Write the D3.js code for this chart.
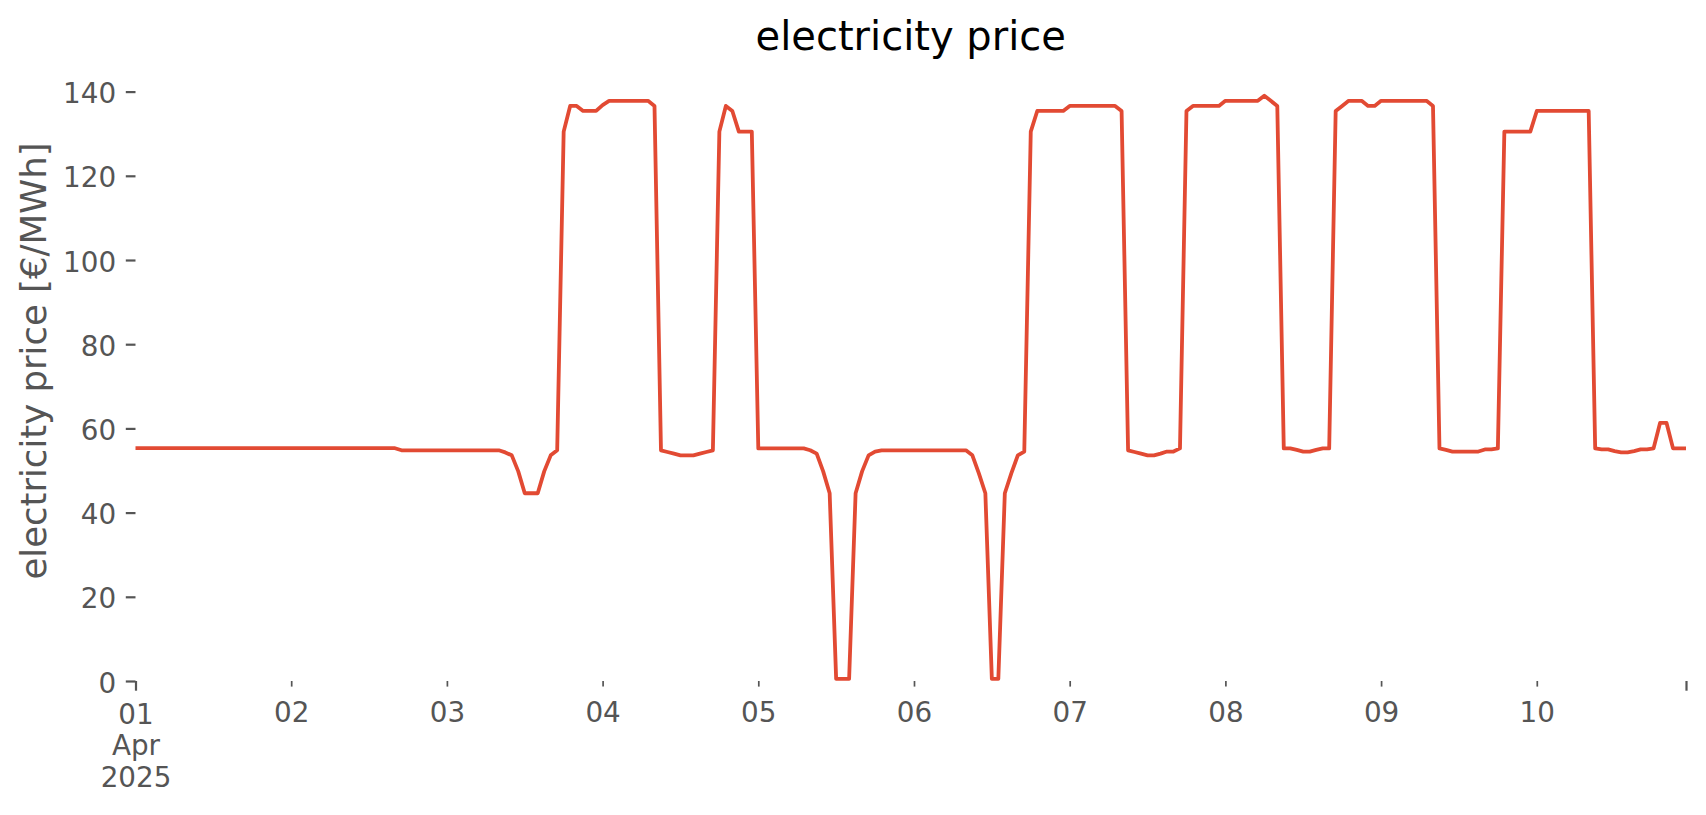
<!DOCTYPE html>
<html>
<head>
<meta charset="utf-8">
<script src="https://cdn.jsdelivr.net/npm/d3@7"></script>
<style>
  html, body { margin: 0; padding: 0; background: #ffffff; }
  svg { display: block; }
</style>
</head>
<body>
<svg id="chart" width="1706" height="815"></svg>
<script>
// ---------------- data ----------------
const titleText = "electricity price";
const yLabelText = "electricity price [€/MWh]";
const startTime = "2025-04-01T00:00:00Z";   // first hourly sample
const endTime = "2025-04-10T23:00:00Z";     // last hourly sample

// hourly electricity price, €/MWh, 1 Apr 00:00 .. 10 Apr 23:00
const pricesDay01 = [55.3,55.3,55.3,55.3,55.3,55.3,55.3,55.3,55.3,55.3,55.3,55.3,55.3,55.3,55.3,55.3,55.3,55.3,55.3,55.3,55.3,55.3,55.3,55.3];
const pricesDay02 = [55.3,55.3,55.3,55.3,55.3,55.3,55.3,55.3,55.3,55.3,55.3,55.3,55.3,55.3,55.3,55.3,55.3,54.8,54.8,54.8,54.8,54.8,54.8,54.8];
const pricesDay03 = [54.8,54.8,54.8,54.8,54.8,54.8,54.8,54.8,54.8,54.3,53.6,49.8,44.6,44.6,44.6,49.8,53.6,54.8,130.5,136.6,136.6,135.4,135.4,135.4];
const pricesDay04 = [136.8,137.8,137.8,137.8,137.8,137.8,137.8,137.8,136.6,54.8,54.4,54.0,53.6,53.6,53.6,54.0,54.4,54.8,130.5,136.6,135.4,130.5,130.5,130.5];
const pricesDay05 = [55.25,55.25,55.25,55.25,55.25,55.25,55.25,55.25,54.8,54.0,49.8,44.6,0.5,0.5,0.5,44.6,49.8,53.6,54.5,54.8,54.8,54.8,54.8,54.8];
const pricesDay06 = [54.8,54.8,54.8,54.8,54.8,54.8,54.8,54.8,54.8,53.6,49.3,44.6,0.5,0.5,44.6,49.3,53.6,54.5,130.5,135.4,135.4,135.4,135.4,135.4];
const pricesDay07 = [136.6,136.6,136.6,136.6,136.6,136.6,136.6,136.6,135.4,54.8,54.4,54.0,53.6,53.6,54.0,54.5,54.5,55.25,135.4,136.6,136.6,136.6,136.6,136.6];
const pricesDay08 = [137.8,137.8,137.8,137.8,137.8,137.8,139.0,137.8,136.6,55.25,55.25,54.9,54.5,54.5,54.9,55.25,55.25,135.4,136.6,137.8,137.8,137.8,136.6,136.6];
const pricesDay09 = [137.8,137.8,137.8,137.8,137.8,137.8,137.8,137.8,136.6,55.25,54.9,54.5,54.5,54.5,54.5,54.5,55.0,55.0,55.25,130.5,130.5,130.5,130.5,130.5];
const pricesDay10 = [135.4,135.4,135.4,135.4,135.4,135.4,135.4,135.4,135.4,55.25,55.0,55.0,54.6,54.3,54.3,54.6,55.0,55.0,55.25,61.3,61.3,55.25,55.25,55.25];

const yTickValues = [0, 20, 40, 60, 80, 100, 120, 140];
const minorTickDays = ["2025-04-02","2025-04-03","2025-04-04","2025-04-05","2025-04-06","2025-04-07","2025-04-08","2025-04-09","2025-04-10"];
const majorTickLabel = ["01", "Apr", "2025"];
const yMax = 146;

(function draw() {
  // ---------------- build series ----------------
  const prices = [].concat(pricesDay01, pricesDay02, pricesDay03, pricesDay04, pricesDay05,
                           pricesDay06, pricesDay07, pricesDay08, pricesDay09, pricesDay10);
  const t0 = new Date(startTime);
  const series = prices.map((v, i) => ({ t: d3.utcHour.offset(t0, i), v }));

  // ---------------- layout ----------------
  const svg = d3.select("#chart");
  const plotLeft = 135.5, plotRight = 1686, plotBottom = 681;
  const pxPerUnit = 4.21;
  const plotTop = plotBottom - yMax * pxPerUnit;
  const fontFam = "'DejaVu Sans', sans-serif";
  const grey = "#555555";

  const x = d3.scaleUtc().domain([t0, new Date(endTime)]).range([plotLeft, plotRight]);
  const y = d3.scaleLinear().domain([0, yMax]).range([plotBottom, plotTop]);

  // line
  const line = d3.line().x(d => x(d.t)).y(d => y(d.v));
  svg.append("path")
    .datum(series)
    .attr("d", line)
    .attr("fill", "none")
    .attr("stroke", "#E24A33")
    .attr("stroke-width", 3.8)
    .attr("stroke-linejoin", "round");

  // y axis
  const yAxis = svg.append("g")
    .attr("transform", `translate(${plotLeft},0)`)
    .call(d3.axisLeft(y).tickValues(yTickValues).tickSize(9.7).tickPadding(9.7).tickFormat(d3.format("d")));
  yAxis.select(".domain").remove();
  yAxis.selectAll(".tick line").attr("stroke", grey).attr("stroke-width", 2.2);
  yAxis.selectAll(".tick text").attr("fill", grey).attr("font-family", fontFam)
    .attr("font-size", "27.8px").attr("dy", "0.4em");

  // x axis minor (day labels)
  const minorDates = minorTickDays.map(s => new Date(s + "T00:00:00Z"));
  const xMinor = svg.append("g")
    .attr("transform", `translate(0,${plotBottom})`)
    .call(d3.axisBottom(x).tickValues(minorDates).tickSize(5.6).tickPadding(15.7).tickFormat(d3.utcFormat("%d")));
  xMinor.select(".domain").remove();
  xMinor.selectAll(".tick line").attr("stroke", grey).attr("stroke-width", 1.7);
  xMinor.selectAll(".tick text").attr("fill", grey).attr("font-family", fontFam).attr("font-size", "27.8px");

  // x axis major (start and end)
  const majorDates = [t0, new Date(endTime)];
  const xMajor = svg.append("g")
    .attr("transform", `translate(0,${plotBottom})`)
    .call(d3.axisBottom(x).tickValues(majorDates).tickSize(9.7).tickPadding(13.6).tickFormat(() => ""));
  xMajor.select(".domain").remove();
  xMajor.selectAll(".tick line").attr("stroke", grey).attr("stroke-width", 2.2);
  xMajor.selectAll(".tick text")
    .attr("fill", grey).attr("font-family", fontFam).attr("font-size", "27.8px")
    .attr("dy", null)
    .each(function(d, i) {
      if (i !== 0) return;
      const txt = d3.select(this);
      majorTickLabel.forEach((s, k) => {
        txt.append("tspan").attr("x", 0).attr("dy", k === 0 ? "0.71em" : "1.13em").text(s);
      });
    });

  // title
  svg.append("text")
    .attr("x", (plotLeft + plotRight) / 2).attr("y", 50)
    .attr("text-anchor", "middle")
    .attr("font-family", fontFam).attr("font-size", "40px").attr("fill", "#000000")
    .text(titleText);

  // y label
  svg.append("text")
    .attr("transform", "translate(46,361) rotate(-90)")
    .attr("text-anchor", "middle")
    .attr("font-family", fontFam).attr("font-size", "35.5px").attr("fill", grey)
    .text(yLabelText);
})();
</script>
</body>
</html>
